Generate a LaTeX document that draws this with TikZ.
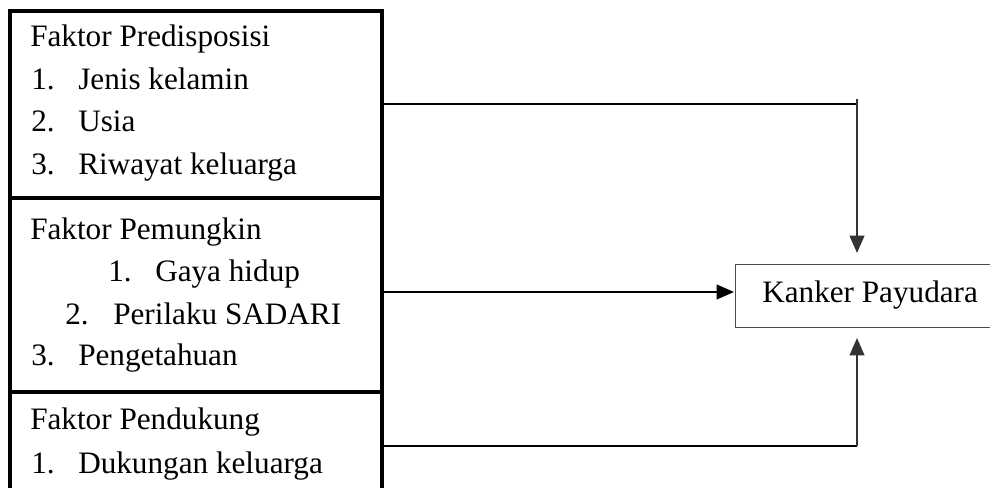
\documentclass[tikz,border=0pt]{standalone}
\usepackage{fontspec}
\setmainfont{Liberation Serif}
\usetikzlibrary{arrows.meta}
\begin{document}
\begin{tikzpicture}[x=0.75pt,y=-0.75pt,
  txt/.style={anchor=base west,inner sep=0pt,font=\fontsize{23.4}{27}\selectfont},
  outer/.style={draw=black,line width=2.4pt},
  divider/.style={draw=black,line width=3pt},
  result/.style={draw=black!70,line width=1pt,rectangle,minimum width=266*0.75pt,minimum height=63*0.75pt,inner sep=0pt},
  conn/.style={draw=black,line width=1.5pt},
  vconn/.style={draw=black!80,line width=1.5pt},
  tip/.style={-{Triangle[length=13pt,width=11pt]}}]
\clip (0,0) rectangle (990,488);
% left boxes
\coordinate (b1nw) at (10,11);
\coordinate (b1se) at (382,198);
\coordinate (b2se) at (382,392);
\coordinate (b3se) at (382,520);
\draw[outer] (10,520) -- (b1nw) -- (382,11) -- (b3se);
\draw[divider] (10,198) -- (b1se);
\draw[divider] (10,392) -- (b2se);
% texts box 1
\node[txt] (t1) at (30,47) {Faktor Predisposisi};
\node[txt] (t1a) at (31,90) {1.};
\node[txt] (t1at) at (78,90) {Jenis kelamin};
\node[txt] (t1b) at (31,132) {2.};
\node[txt] (t1bt) at (78,132) {Usia};
\node[txt] (t1c) at (31,175) {3.};
\node[txt] (t1ct) at (78,175) {Riwayat keluarga};
% texts box 2
\node[txt] (t2) at (30,240) {Faktor Pemungkin};
\node[txt] (t2a) at (108,282) {1.};
\node[txt] (t2at) at (155,282) {Gaya hidup};
\node[txt] (t2b) at (65,325) {2.};
\node[txt] (t2bt) at (113,325) {Perilaku SADARI};
\node[txt] (t2c) at (31,366) {3.};
\node[txt] (t2ct) at (78,366) {Pengetahuan};
% texts box 3
\node[txt] (t3) at (30,430) {Faktor Pendukung};
\node[txt] (t3a) at (31,474) {1.};
\node[txt] (t3at) at (78,474) {Dukungan keluarga};
% result
\node[result,anchor=north west] (k) at (735,264) {};
\node[txt] (kt) at (762,303) {Kanker Payudara};
% connectors
\coordinate (c1s) at (382,104);
\coordinate (c1) at (857,104);
\coordinate (c1t) at (857,99);
\coordinate (c1e) at (857,253);
\coordinate (c2s) at (382,292);
\coordinate (c2e) at (734,292);
\coordinate (c3s) at (382,446);
\coordinate (c3) at (857,446);
\coordinate (c3e) at (857,338);
\draw[conn] (c1s) -- (c1);
\draw[vconn,tip] (c1t) -- (c1e);
\draw[conn,tip] (c2s) -- (c2e);
\draw[conn] (c3s) -- (c3);
\draw[vconn,tip] (c3) -- (c3e);
\end{tikzpicture}
\end{document}
